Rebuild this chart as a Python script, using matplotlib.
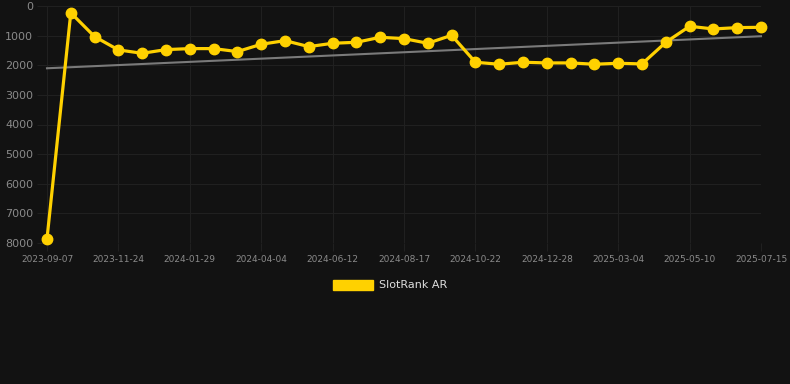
import numpy as np
import matplotlib
matplotlib.use("Agg")
import matplotlib.pyplot as plt
from matplotlib.patches import Patch

# rank values, one per snapshot (every 3rd snapshot is labelled)
ranks = [7855, 230, 1034, 1483, 1596, 1472, 1438, 1438, 1539, 1292, 1169,
         1371, 1258, 1225, 1056, 1101, 1258, 989, 1899, 1966, 1899, 1921,
         1921, 1966, 1933, 1955, 1225, 685, 775, 730, 719]
tick_labels = ["2023-09-07", "2023-11-24", "2024-01-29", "2024-04-04",
               "2024-06-12", "2024-08-17", "2024-10-22", "2024-12-28",
               "2025-03-04", "2025-05-10", "2025-07-15"]
y_ticks = [0, 1000, 2000, 3000, 4000, 5000, 6000, 7000, 8000]

BG = "#121212"
YELLOW = "#FFD100"
GRID = "#202020"

W, H = 790, 384
fig = plt.figure(figsize=(W / 100, H / 100), dpi=100, facecolor=BG)
ax = fig.add_axes([47 / W, 1 - 243 / H, (761 - 47) / W, (243 - 6) / H], facecolor=BG)

x = np.arange(len(ranks))

# linear trend through all points
k, b = np.polyfit(x, ranks, 1)
ax.plot(x, k * x + b, color="#7a7a7a", lw=1.5, zorder=2, clip_on=False)

ax.plot(x, ranks, color=YELLOW, lw=2.3, marker="o", ms=7.5,
        zorder=3, clip_on=False)

ax.set_xlim(0, len(ranks) - 1)
ax.set_ylim(8000, 0)
ax.set_yticks(y_ticks)
ax.set_yticklabels([str(v) for v in y_ticks])
ax.set_xticks(x[::3])
ax.set_xticklabels(tick_labels)

ax.grid(True, color=GRID, lw=0.8)
ax.set_axisbelow(True)
for s in ax.spines.values():
    s.set_visible(False)
ax.tick_params(axis="y", length=7, width=0.8, color=GRID, pad=3,
               labelsize=8, labelcolor="#8a8a8a")
ax.tick_params(axis="x", length=6, width=0.8, color=GRID, pad=3,
               labelsize=6.5, labelcolor="#8a8a8a")

fig.legend(handles=[Patch(facecolor=YELLOW, edgecolor=YELLOW, label="SlotRank AR")],
           loc="center", bbox_to_anchor=(390 / W, 1 - 285 / H), frameon=False,
           fontsize=8, labelcolor="#dddddd", handlelength=3.6, handleheight=1.0,
           handletextpad=0.6)

fig.savefig("out.png", dpi=100, facecolor=BG)
